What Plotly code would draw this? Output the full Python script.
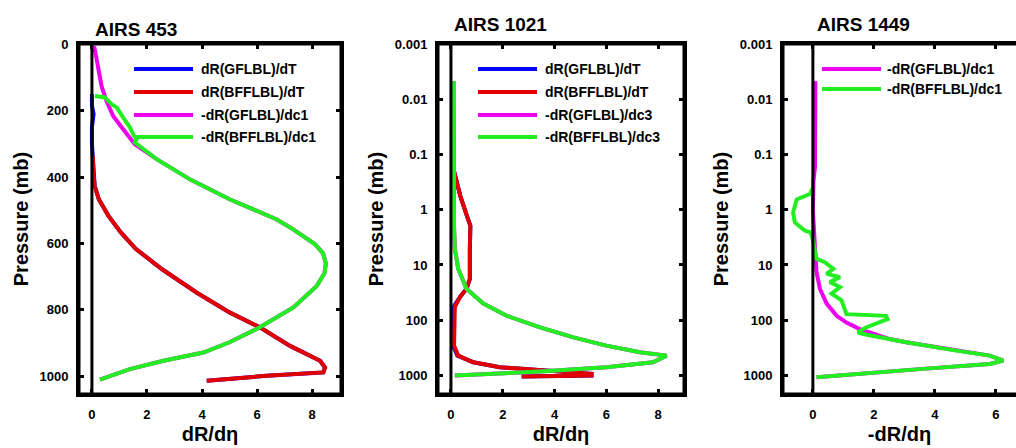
import plotly.graph_objects as go

W, H = 1016, 448
FONT = "Liberation Sans, Arial, Helvetica, sans-serif"

# ---------------- data ----------------
names_p1 = ["dR(GFLBL)/dT", "dR(BFFLBL)/dT", "-dR(GFLBL)/dc1", "-dR(BFFLBL)/dc1"]
names_p2 = ["dR(GFLBL)/dT", "dR(BFFLBL)/dT", "-dR(GFLBL)/dc3", "-dR(BFFLBL)/dc3"]
names_p3 = ["-dR(GFLBL)/dc1", "-dR(BFFLBL)/dc1"]
colors4 = ["#0000ff", "#e00000", "#ee00ee", "#22ee22"]
colors2 = ["#ee00ee", "#22ee22"]

# AIRS 453 (pressure, mb)
p453_blue = [150, 185, 210, 250, 300, 336, 390, 427, 467, 517, 567, 617, 678, 748, 808, 853, 909, 954, 974, 989, 999, 1014]
x453_blue = [0.0, 0.0, 0.06, 0.0, 0.0, 0.03, 0.05, 0.1, 0.25, 0.6, 1.05, 1.6, 2.55, 3.8, 5.0, 6.1, 7.2, 8.29, 8.47, 8.41, 6.35, 4.17]
p453_red = [336, 390, 427, 467, 517, 567, 617, 678, 748, 808, 853, 909, 954, 974, 989, 999, 1014]
x453_red = [0.03, 0.05, 0.1, 0.25, 0.6, 1.05, 1.6, 2.55, 3.8, 5.0, 6.1, 7.2, 8.29, 8.47, 8.41, 6.35, 4.17]
p453_mag = [5, 75, 126, 171, 216, 250, 280, 301, 346, 407, 467, 527, 557, 602, 630, 660, 690, 728, 793, 853, 898, 929, 954, 979, 1011]
x453_mag = [0.08, 0.23, 0.35, 0.53, 0.77, 1.08, 1.38, 1.56, 2.35, 3.56, 5.0, 6.7, 7.3, 8.1, 8.4, 8.5, 8.45, 8.17, 7.32, 6.1, 5.0, 4.05, 2.6, 1.38, 0.29]
p453_grn = [156, 160, 181, 190, 220, 250, 271, 286, 296, 346, 407, 467, 527, 557, 602, 630, 660, 690, 728, 793, 853, 898, 929, 954, 979, 1011]
x453_grn = [0.11, 0.47, 0.72, 0.9, 1.13, 1.38, 1.5, 1.62, 1.56, 2.35, 3.56, 5.0, 6.7, 7.3, 8.1, 8.4, 8.5, 8.45, 8.17, 7.32, 6.1, 5.0, 4.05, 2.6, 1.38, 0.29]

# AIRS 1021 (pressure, mb, log axis)
p1021_blue = [0.2, 0.56, 1.3, 1.95, 5.1, 17.8, 27, 38, 57.5, 126, 288, 437, 575, 708, 776, 933, 1000, 1047]
x1021_blue = [0.12, 0.36, 0.62, 0.75, 0.73, 0.73, 0.6, 0.35, 0.1, 0.08, 0.08, 0.25, 0.86, 1.89, 3.05, 5.43, 5.43, 2.73]
p1021_red = [0.2, 0.56, 1.3, 1.95, 5.1, 17.8, 27, 38, 57.5, 126, 288, 437, 575, 708, 776, 933, 1000, 1047]
x1021_red = [0.12, 0.36, 0.62, 0.75, 0.73, 0.73, 0.6, 0.35, 0.15, 0.12, 0.12, 0.28, 0.86, 1.89, 3.05, 5.43, 5.43, 2.73]
p1021_mag = [0.0047, 0.05, 0.5, 2.0, 5.1, 11.7, 27, 50, 83, 135, 204, 288, 380, 437, 575, 708, 851, 933, 1000]
x1021_mag = [0.1, 0.1, 0.11, 0.12, 0.15, 0.28, 0.6, 1.25, 2.15, 3.44, 4.73, 6.0, 7.3, 8.33, 7.8, 6.0, 3.44, 1.5, 0.15]
p1021_grn = [0.0047, 0.05, 0.5, 2.0, 5.1, 11.7, 27, 50, 83, 135, 204, 288, 380, 437, 575, 708, 851, 933, 1000]
x1021_grn = [0.1, 0.1, 0.11, 0.12, 0.15, 0.28, 0.6, 1.25, 2.15, 3.44, 4.73, 6.0, 7.3, 8.33, 7.8, 6.0, 3.44, 1.5, 0.15]

# AIRS 1449 (pressure, mb, log axis)
p1449_mag = [0.0047, 0.166, 0.3, 1.0, 5.1, 13.5, 26.9, 50, 83, 110, 145, 158, 219, 251, 355, 437, 537, 617, 759, 933, 1072]
x1449_mag = [0.08, 0.07, 0.02, 0.0, 0.07, 0.12, 0.23, 0.45, 0.78, 1.1, 1.54, 1.74, 2.52, 3.06, 4.7, 5.8, 6.24, 5.8, 3.6, 1.43, 0.12]
p1449_grn = [0.4, 0.52, 0.65, 1.12, 1.70, 2.40, 2.57, 3.5, 7.76, 8.9, 11.7, 14.5, 16.6, 20.4, 25.1, 33.1, 43.7, 53.7, 77.6, 83.2, 95.5,
             135, 166, 178, 251, 355, 437, 537, 617, 759, 933, 1072]
x1449_grn = [0.0, -0.1, -0.53, -0.65, -0.59, -0.26, -0.08, 0.0, 0.12, 0.39, 0.67, 0.45, 0.89, 0.56, 0.89, 0.61, 0.94, 1.0, 1.1, 2.4, 2.45,
             1.74, 1.47, 1.64, 3.06, 4.7, 5.8, 6.24, 5.8, 3.6, 1.43, 0.12]

titles = ["AIRS 453", "AIRS 1021", "AIRS 1449"]
xtitles = ["dR/d\u03b7", "dR/d\u03b7", "-dR/d\u03b7"]
ytitle = "Pressure (mb)"
lin_ticks = [0, 200, 400, 600, 800, 1000]
log_ticks = [0.001, 0.01, 0.1, 1, 10, 100, 1000]
log_text = ["0.001", "0.01", "0.1", "1", "10", "100", "1000"]
x_ticks12 = [0, 2, 4, 6, 8]
x_ticks3 = [0, 2, 4, 6]

# ---------------- figure ----------------
fig = go.Figure()
LW = 4

def add(x, y, c, name, ax):
    fig.add_trace(go.Scatter(x=x, y=y, mode="lines", name=name, showlegend=False,
                             line=dict(color=c, width=LW), xaxis="x" + ax, yaxis="y" + ax))

add(x453_blue, p453_blue, colors4[0], names_p1[0], "")
add(x453_red, p453_red, colors4[1], names_p1[1], "")
add(x453_mag, p453_mag, colors4[2], names_p1[2], "")
add(x453_grn, p453_grn, colors4[3], names_p1[3], "")
add(x1021_blue, p1021_blue, colors4[0], names_p2[0], "2")
add(x1021_red, p1021_red, colors4[1], names_p2[1], "2")
add(x1021_mag, p1021_mag, colors4[2], names_p2[2], "2")
add(x1021_grn, p1021_grn, colors4[3], names_p2[3], "2")
add(x1449_mag, p1449_mag, colors2[0], names_p3[0], "3")
add(x1449_grn, p1449_grn, colors2[1], names_p3[1], "3")

def px(v):
    return v / W

def py(v):
    return 1 - v / H

ydom = [py(394), py(44)]
tickfont = dict(family=FONT, size=13, color="black", weight="bold")
titlefont = dict(family=FONT, size=20, color="black", weight="bold")

def xax(dom, rng, ticks, title, anchor):
    return dict(domain=dom, range=rng, anchor=anchor, tickvals=ticks, ticktext=[str(t) for t in ticks],
                ticks="inside", ticklen=5, tickwidth=2.5, tickcolor="black",
                showline=True, linewidth=3, linecolor="black", mirror="ticks",
                showgrid=False, zeroline=False, tickfont=tickfont, ticklabelstandoff=6,
                title=dict(text=title, font=titlefont, standoff=7))

def yax(dom, rng, vals, text, anchor, typ="linear", mirror="ticks"):
    return dict(domain=dom, range=rng, anchor=anchor, type=typ, tickvals=vals, ticktext=text,
                ticks="inside", ticklen=5, tickwidth=2.5, tickcolor="black",
                showline=True, linewidth=3, linecolor="black", mirror=mirror,
                showgrid=False, zeroline=False, tickfont=tickfont, ticklabelstandoff=5,
                title=dict(text=ytitle, font=titlefont, standoff=6))

fig.update_layout(
    width=W, height=H, margin=dict(l=0, r=0, t=0, b=0, autoexpand=False),
    paper_bgcolor="white", plot_bgcolor="white", showlegend=False,
    xaxis=xax([px(79), px(341)], [-0.47, 9.05], x_ticks12, xtitles[0], "y"),
    yaxis=yax(ydom, [1054, -1], lin_ticks, [str(t) for t in lin_ticks], "x"),
    xaxis2=xax([px(438), px(684)], [-0.5, 9.0], x_ticks12, xtitles[1], "y2"),
    yaxis2=yax(ydom, [3.335, -3], log_ticks, log_text, "x2", typ="log"),
    xaxis3=xax([px(783), 1.0], [-0.98, 6.66], x_ticks3, xtitles[2], "y3"),
    yaxis3=yax(ydom, [3.335, -3], log_ticks, log_text, "x3", typ="log", mirror=False),
)

shapes = []
annotations = []
# zero lines and frames
for ax in ["", "2", "3"]:
    shapes.append(dict(type="line", xref="x" + ax, yref="y" + ax + " domain", x0=0, x1=0, y0=0, y1=1,
                       line=dict(color="black", width=3), layer="above"))
for ax in ["", "2"]:
    shapes.append(dict(type="rect", xref="x" + ax + " domain", yref="y" + ax + " domain", x0=0, x1=1, y0=0, y1=1,
                       line=dict(color="black", width=3), layer="above"))
for (a0, a1, b0, b1) in [(0, 0, 0, 1), (0, 1, 0, 0), (0, 1, 1, 1)]:
    shapes.append(dict(type="line", xref="x3 domain", yref="y3 domain", x0=a0, x1=a1, y0=b0, y1=b1,
                       line=dict(color="black", width=3), layer="above"))

# panel titles
for t, (xl, yc) in zip(titles, [(93, 29), (452, 24), (815, 24)]):
    annotations.append(dict(text=t, xref="paper", yref="paper", x=px(xl), y=py(yc), xanchor="left",
                            yanchor="middle", showarrow=False, font=dict(family=FONT, size=19, color="black", weight="bold")))

# legends
legfont = dict(family=FONT, size=14, color="black", weight="bold")
leg_specs = [
    (names_p1, colors4, 134, 193, 199, [69, 92, 115, 137]),
    (names_p2, colors4, 478, 537, 543, [69, 92, 115, 137]),
    (names_p3, colors2, 822, 881, 885, [69, 89]),
]
for names, cols, x0, x1, xt, ys in leg_specs:
    for n, c, yy in zip(names, cols, ys):
        shapes.append(dict(type="line", xref="paper", yref="paper", x0=px(x0), x1=px(x1), y0=py(yy), y1=py(yy),
                           line=dict(color=c, width=LW)))
        annotations.append(dict(text=n, xref="paper", yref="paper", x=px(xt), y=py(yy), xanchor="left",
                                yanchor="middle", showarrow=False, font=legfont))

fig.update_layout(shapes=shapes, annotations=annotations)
fig.write_html("out.html", config={"displayModeBar": False},
               post_script="document.body.style.margin='0px';document.body.style.overflow='hidden';")
